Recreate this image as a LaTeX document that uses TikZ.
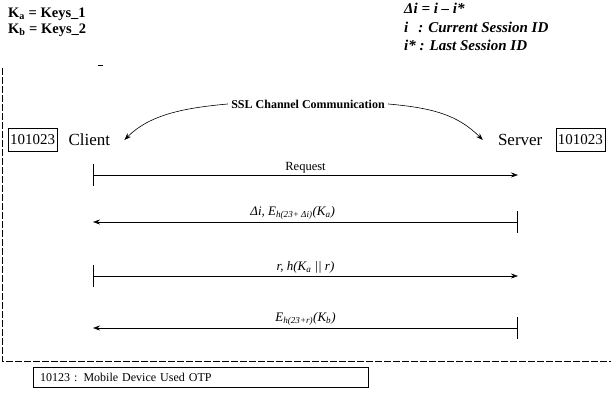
\documentclass[tikz,border=0pt]{standalone}
\usepackage{fontspec}
\setmainfont{Liberation Serif}
\usetikzlibrary{arrows.meta, positioning, calc}
\tikzset{
	idbox/.style={rectangle, draw, inner sep=2pt, minimum height=23pt,
		font=\fontsize{15}{17}\selectfont},
	party/.style={inner sep=1pt, font=\fontsize{17}{19}\selectfont},
	arr/.style={-{Stealth[length=7pt, width=5pt]}, semithick},
	msg/.style={{Bar[width=22pt]}-{Stealth[length=7pt, width=5pt]}, semithick},
	lbl/.style={above, inner sep=2pt, font=\fontsize{13}{15}\selectfont\itshape},
	notes/.style={anchor=north west, align=left, inner sep=0pt},
	legend/.style={rectangle, draw, anchor=north west, text width=321pt,
		inner xsep=7pt, minimum height=20pt, align=left, font=\fontsize{12}{14}\selectfont},
	frame/.style={dash pattern=on 7pt off 2pt, thin},
}
\begin{document}
\begin{tikzpicture}[x=1pt, y=-1pt]
	\useasboundingbox (0,0) rectangle (611,399);
	% notes at the top
	\node[notes, font=\bfseries\fontsize{14.5}{16}\selectfont] (keys) at (8,8)
		{K\textsubscript{a} = Keys\_1\\K\textsubscript{b} = Keys\_2};
	\node[notes, font=\bfseries\itshape\fontsize{15}{18.5}\selectfont] (ids) at (404,3)
		{Δi = i – i*\\i\enspace\,: Current Session ID\\i* : Last Session ID};
	
	% parties
	\node[idbox, anchor=west] (cid) at (8,140) {101023};
	\node[party, right=10pt of cid] (client) {Client};
	\node[idbox, anchor=east] (sid) at (605,140) {101023};
	\node[party, left=12pt of sid] (server) {Server};
	\node[font=\bfseries\fontsize{12}{14}\selectfont] (ssl) at (308,104) {SSL Channel Communication};
	\draw[arr] (ssl.west) .. controls +(-45,4) and +(25,-25) .. ([xshift=13pt]client.east);
	\draw[arr] (ssl.east) .. controls +(45,4) and +(-25,-25) .. ([xshift=-14pt]server.west);
	
	% messages
	\foreach \y/\m in {175/a, 222/b, 276/c, 328/d} {
		\coordinate (c\m) at (93,\y);
		\coordinate (s\m) at (518,\y);
	}
	\draw[msg] (ca) -- node[lbl, font=\fontsize{12.5}{14}\selectfont] {Request} (sa);
	\draw[msg] (sb) -- node[lbl, pos=0.53] {Δi, E\textsubscript{h(23+ Δi)}(K\textsubscript{a})} (cb);
	\draw[msg] (cc) -- node[lbl] {r, h(K\textsubscript{a} || r)} (sc);
	\draw[msg] (sd) -- node[lbl] {E\textsubscript{h(23+r)}(K\textsubscript{b})} (cd);
	
	% frame and legend
	\draw[thin] (98,65) -- (103,65);
	\draw[frame] (2,68) |- (611,361);
	\node[legend] (otp) at (33,367) {10123 : Mobile Device Used OTP};
\end{tikzpicture}
\end{document}
